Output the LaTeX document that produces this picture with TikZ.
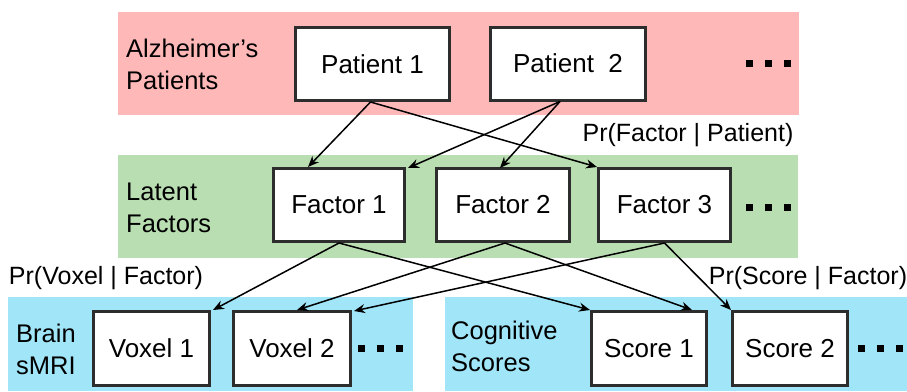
\documentclass[tikz,border=0pt]{standalone}
\usepackage{fontspec}
\setmainfont{Liberation Sans}
\usetikzlibrary{arrows.meta}
\definecolor{bandpink}{RGB}{255,184,184}
\definecolor{bandgreen}{RGB}{185,222,177}
\definecolor{bandblue}{RGB}{160,229,248}
\definecolor{boxline}{RGB}{45,45,45}
\newcommand{\threesquares}{\rule{7pt}{7pt}\hspace{12pt}\rule{7pt}{7pt}\hspace{12pt}\rule{7pt}{7pt}}
\tikzset{
  unitbox/.style={draw=boxline, line width=3pt, fill=white, inner sep=0pt,
    minimum height=73pt, font=\fontsize{26}{26}\selectfont},
  bandlabel/.style={anchor=west, align=left, inner sep=0pt,
    font=\fontsize{25.5}{32}\selectfont},
  problabel/.style={inner sep=0pt, font=\fontsize{25}{25}\selectfont},
  dotrow/.style={inner sep=0pt},
  link/.style={draw=black, line width=1.5pt, -{Stealth[length=11pt,width=9pt]}}
}
\begin{document}
\begin{tikzpicture}[x=1pt,y=-1pt]
\useasboundingbox (0,0) rectangle (907,391);
% coloured layer bands
\fill[bandpink]  (118,12)  rectangle (799,115);
\fill[bandgreen] (118,155) rectangle (798,258);
\fill[bandblue]  (8,297)   rectangle (413,391);
\fill[bandblue]  (445,297) rectangle (907,391);

% layer captions
\node[bandlabel] (lpat) at (126,64)  {Alzheimer’s\\Patients};
\node[bandlabel] (lfac) at (126,208) {Latent\\Factors};
\node[bandlabel] (lmri) at (16,349)  {Brain\\sMRI};
\node[bandlabel] (lcog) at (451,346) {Cognitive\\Scores};

% patients
\node[unitbox, minimum width=154pt] (p1) at (372.5,64) {Patient 1};
\node[unitbox, minimum width=155pt] (p2) at (568,63.5) {Patient\ \ 2};
\node[dotrow] (pdots) at (768,63) {\threesquares};

% factors
\node[unitbox, minimum width=131pt] (f1) at (339,205)   {Factor 1};
\node[unitbox, minimum width=133pt] (f2) at (503,205)   {Factor 2};
\node[unitbox, minimum width=132pt] (f3) at (664.5,205) {Factor 3};
\node[dotrow] (fdots) at (768,207) {\threesquares};

% voxels and scores
\node[unitbox, minimum width=116pt, minimum height=74pt] (v1) at (151.5,348.5) {Voxel 1};
\node[unitbox, minimum width=117pt, minimum height=74pt] (v2) at (292,348.5)   {Voxel 2};
\node[dotrow] (vdots) at (380,348) {\threesquares};
\node[unitbox, minimum width=115pt, minimum height=74pt] (s1) at (649,348.5)   {Score 1};
\node[unitbox, minimum width=115pt, minimum height=74pt] (s2) at (790,348.5)   {Score 2};
\node[dotrow] (sdots) at (880,348) {\threesquares};

% conditional probability labels
\node[problabel] (pfp) at (688,135) {Pr(Factor | Patient)};
\node[problabel] (pvf) at (106,278) {Pr(Voxel | Factor)};
\node[problabel] (psf) at (808,278) {Pr(Score | Factor)};

% patient -> factor links
\draw[link] ([xshift=-2pt]p1.south) -- ([xshift=-31pt]f1.north);
\draw[link] ([xshift=-2pt]p1.south) -- (f3.north west);
\draw[link] ([xshift=-8pt]p2.south) -- ([xshift=2pt,yshift=-1pt]f1.north east);
\draw[link] ([xshift=-8pt]p2.south) -- ([xshift=-3pt,yshift=-1pt]f2.north);

% factor -> observation links
\draw[link] (f1.south) -- ([xshift=2pt]v1.north east);
\draw[link] (f1.south) -- (s1.north west);
\draw[link] ([xshift=2pt]f2.south) -- ([xshift=5pt]v2.north);
\draw[link] ([xshift=2pt]f2.south) -- ([xshift=-16pt]s1.north east);
\draw[link] (f3.south) -- ([xshift=2pt,yshift=-1pt]v2.north east);
\draw[link] (f3.south) -- (s2.north west);
\end{tikzpicture}
\end{document}
